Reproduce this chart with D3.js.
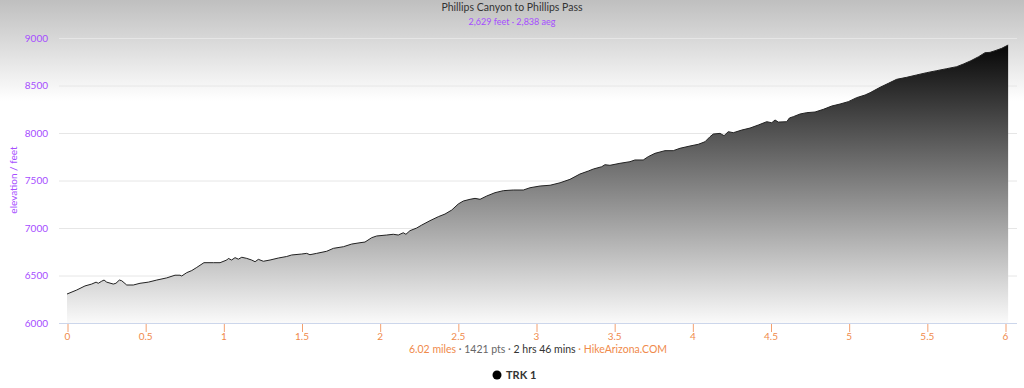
<!DOCTYPE html>
<html><head><meta charset="utf-8">
<script src="https://cdn.jsdelivr.net/npm/d3@7"></script>
<style>body{margin:0;background:#fff}svg{display:block;font-family:Lato,"Open Sans",sans-serif}</style>
</head><body><svg id="c" width="1024" height="388"></svg>
<script>
const title = "Phillips Canyon to Phillips Pass";
const subtitle = "2,629 feet · 2,838 aeg";
const yTicks = [6000, 6500, 7000, 7500, 8000, 8500, 9000];
const xTicks = [0, 0.5, 1, 1.5, 2, 2.5, 3, 3.5, 4, 4.5, 5, 5.5, 6];
const seriesName = "TRK 1";
const miles = [0,0.062,0.115,0.158,0.186,0.2,0.222,0.237,0.254,0.296,0.313,0.335,0.35,0.382,0.424,0.467,0.52,0.574,0.638,0.691,0.723,0.734,0.766,0.798,0.83,0.876,0.936,0.979,1.022,1.032,1.053,1.075,1.096,1.118,1.15,1.181,1.203,1.224,1.256,1.299,1.352,1.405,1.437,1.501,1.533,1.554,1.597,1.661,1.704,1.768,1.821,1.874,1.906,1.949,1.981,2.045,2.087,2.119,2.151,2.168,2.194,2.237,2.269,2.322,2.375,2.418,2.461,2.503,2.535,2.578,2.61,2.642,2.685,2.738,2.791,2.855,2.919,2.962,3.026,3.09,3.154,3.217,3.281,3.335,3.367,3.42,3.441,3.473,3.537,3.601,3.633,3.686,3.718,3.761,3.825,3.878,3.921,3.985,4.038,4.081,4.113,4.134,4.177,4.203,4.23,4.262,4.316,4.369,4.422,4.476,4.508,4.529,4.55,4.604,4.621,4.646,4.689,4.732,4.785,4.838,4.892,4.945,4.998,5.051,5.105,5.137,5.201,5.254,5.307,5.371,5.435,5.499,5.563,5.627,5.691,5.734,5.782,5.831,5.872,5.904,5.936,5.979,6.02];
const elevation = [6305,6347,6390,6410,6430,6418,6440,6452,6430,6410,6418,6452,6445,6400,6400,6418,6430,6452,6475,6503,6503,6495,6530,6552,6585,6635,6635,6635,6663,6680,6663,6688,6672,6692,6680,6663,6645,6670,6650,6663,6684,6700,6716,6726,6733,6719,6733,6755,6786,6803,6831,6845,6852,6898,6916,6926,6934,6926,6950,6934,6972,7000,7031,7077,7119,7147,7189,7253,7284,7302,7312,7302,7337,7372,7393,7400,7400,7424,7442,7450,7476,7512,7568,7600,7621,7645,7666,7660,7681,7698,7716,7716,7751,7786,7814,7814,7839,7863,7881,7908,7961,7989,7996,7972,8014,8003,8031,8052,8084,8119,8108,8137,8115,8119,8158,8172,8200,8214,8221,8249,8284,8305,8330,8372,8400,8424,8481,8523,8565,8586,8611,8635,8656,8677,8698,8726,8761,8803,8845,8849,8866,8891,8926];
const data = miles.map((m,i)=>({m, e: elevation[i]}));

const svg = d3.select("#c");
const defs = svg.append("defs");
const bg = defs.append("linearGradient").attr("id","bg").attr("x1",0).attr("y1",0).attr("x2",0).attr("y2",1);
bg.append("stop").attr("offset",0).attr("stop-color","#bfbfbf");
bg.append("stop").attr("offset",0.26).attr("stop-color","#ffffff");
bg.append("stop").attr("offset",1).attr("stop-color","#ffffff");
svg.append("rect").attr("width",1024).attr("height",388).attr("fill","url(#bg)");

const x = d3.scaleLinear().domain([0,6]).range([67,1005]);
const y = d3.scaleLinear().domain([6000,9000]).range([323,38]);
const plotL = 59, plotR = 1017;

const ag = defs.append("linearGradient").attr("id","ag").attr("gradientUnits","userSpaceOnUse")
  .attr("x1",0).attr("y1",y(9000)).attr("x2",0).attr("y2",y(6000));
ag.append("stop").attr("offset",0).attr("stop-color","#000");
ag.append("stop").attr("offset",1).attr("stop-color","#fafafa");

// grid
svg.append("g").selectAll("line").data(yTicks.slice(1)).join("line")
  .attr("x1",plotL).attr("x2",plotR).attr("y1",d=>y(d)+0.5).attr("y2",d=>y(d)+0.5)
  .attr("stroke","#e6e6e6").attr("stroke-width",1);

// area
svg.append("path").datum(data)
  .attr("d", d3.area().x(d=>x(d.m)).y0(y(6000)).y1(d=>y(d.e)))
  .attr("fill","url(#ag)");
svg.append("path").datum(data)
  .attr("d", d3.line().x(d=>x(d.m)).y(d=>y(d.e)))
  .attr("fill","none").attr("stroke","#222").attr("stroke-width",1);

// x axis
svg.append("line").attr("x1",plotL).attr("x2",plotR).attr("y1",323.5).attr("y2",323.5).attr("stroke","#ccd6eb");
const xa = d3.axisBottom(x).tickValues(xTicks).tickSize(8).tickPadding(1).tickFormat(d=>String(d));
const gx = svg.append("g").attr("transform","translate(0,324)").call(xa);
gx.select(".domain").remove();
gx.selectAll("line").attr("stroke","#f3a070").attr("transform","translate(0.5,0)");
gx.selectAll("text").attr("fill","#f08a4b").attr("font-size","10px").attr("font-family","Lato,sans-serif");

// y axis
const ya = d3.axisLeft(y).tickValues(yTicks).tickSize(0).tickPadding(0).tickFormat(d3.format("d"));
const gy = svg.append("g").attr("transform","translate(48,0)").call(ya);
gy.select(".domain").remove();
gy.selectAll("text").attr("fill","#a64dff").attr("font-size","10px").attr("font-family","Lato,sans-serif");

svg.append("text").attr("transform","translate(17,180) rotate(-90)").attr("text-anchor","middle")
  .attr("fill","#a64dff").attr("font-size","10px").text("elevation / feet");

// titles
svg.append("text").attr("x",512).attr("y",9).attr("dy","0.05em").attr("text-anchor","middle").attr("fill","#333")
  .attr("font-size","10.5px").attr("dominant-baseline","auto").attr("y",10).text(title);
svg.append("text").attr("x",512).attr("y",25).attr("text-anchor","middle").attr("fill","#a64dff")
  .attr("font-size","9px").text(subtitle);

// footer
const ft = svg.append("text").attr("x",538).attr("y",353).attr("text-anchor","middle").attr("font-size","10.5px");
ft.append("tspan").attr("fill","#f08a4b").text("6.02 miles");
ft.append("tspan").attr("fill","#666").text(" · 1421 pts · ");
ft.append("tspan").attr("fill","#333").text("2 hrs 46 mins");
ft.append("tspan").attr("fill","#f08a4b").text(" · HikeArizona.COM");

// legend
svg.append("circle").attr("cx",497).attr("cy",375).attr("r",4.5).attr("fill","#000");
svg.append("text").attr("x",506).attr("y",379).attr("fill","#333").attr("font-size","11px").attr("font-weight","bold").text(seriesName);
</script></body></html>
